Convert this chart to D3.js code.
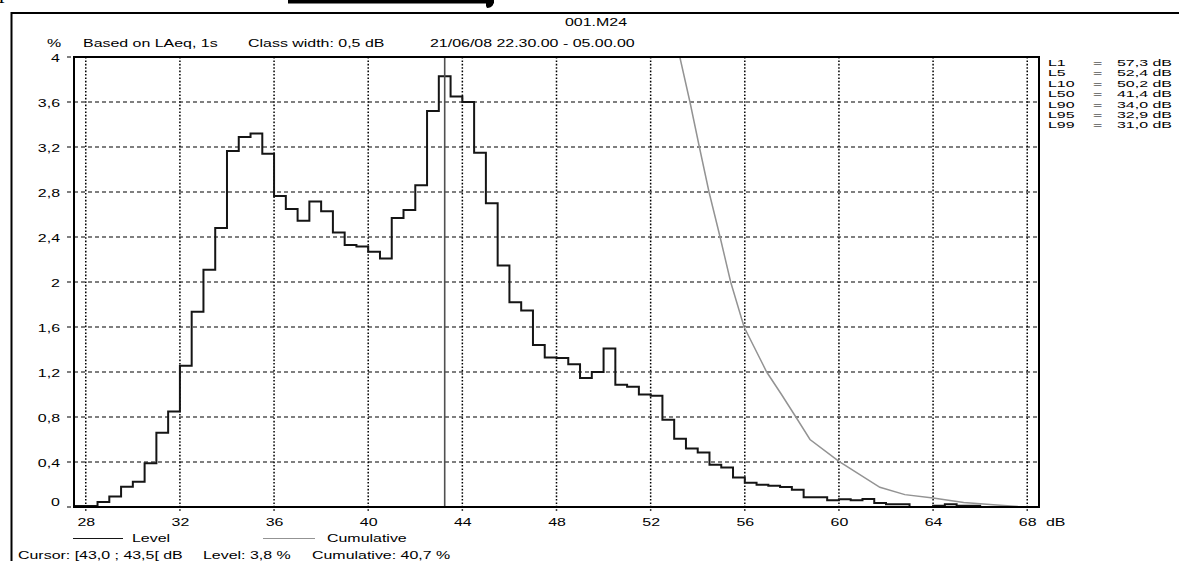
<!DOCTYPE html>
<html><head><meta charset="utf-8">
<script src="https://cdn.jsdelivr.net/npm/d3@7"></script>
<style>
body{margin:0;background:#fff}
text{font-family:"Liberation Sans",Arial,sans-serif;font-size:11px;fill:#000}
</style>
</head><body>
<svg id="c" width="1179" height="561"></svg>
<script>
// ---------- data ----------
const classLow = [27.5,28,28.5,29,29.5,30,30.5,31,31.5,32,32.5,33,33.5,34,34.5,35,35.5,36,36.5,37,37.5,38,38.5,39,39.5,40,40.5,41,41.5,42,42.5,43,43.5,44,44.5,45,45.5,46,46.5,47,47.5,48,48.5,49,49.5,50,50.5,51,51.5,52,52.5,53,53.5,54,54.5,55,55.5,56,56.5,57,57.5,58,58.5,59,59.5,60,60.5,61,61.5,62,62.5,63,63.5,64,64.5,65,65.5,66];
const levelPct = [0.01,0.01,0.045,0.093,0.18,0.225,0.39,0.66,0.85,1.255,1.735,2.11,2.48,3.165,3.29,3.32,3.14,2.765,2.65,2.545,2.715,2.63,2.44,2.33,2.315,2.27,2.21,2.57,2.64,2.86,3.52,3.83,3.65,3.60,3.15,2.70,2.146,1.82,1.747,1.44,1.33,1.325,1.27,1.146,1.20,1.41,1.086,1.07,1.0,0.99,0.776,0.607,0.52,0.485,0.376,0.352,0.263,0.215,0.198,0.19,0.178,0.154,0.086,0.086,0.059,0.068,0.059,0.071,0.036,0.024,0.024,0,0,0.012,0.024,0.012,0.012,0];
const classWidth = 0.5;
const cumLevel = [53.24,53.67,54.07,54.48,54.95,55.4,55.97,56.93,57.56,58.17,58.77,60.0,61.74,62.8,64.0,65.3,66.56,67.6];
const cumPct   = [4.0,3.6,3.2,2.8,2.4,2.0,1.6,1.2,1.0,0.8,0.6,0.405,0.175,0.11,0.08,0.04,0.02,0.005];
const xTicks = [28,32,36,40,44,48,52,56,60,64,68];
const yTicks = [0,0.4,0.8,1.2,1.6,2,2.4,2.8,3.2,3.6,4];
const statNames = ["L1","L5","L10","L50","L90","L95","L99"];
const statValues = [57.3,52.4,50.2,41.4,34.0,32.9,31.0];
const cursorClass = [43.0,43.5];
const cursorLevel = 3.8;
const cursorCum = 40.7;
const fileName = "001.M24";
const subtitleParts = ["Based on LAeq, 1s","Class width: 0,5 dB","21/06/08 22.30.00 - 05.00.00"];

// ---------- layout ----------
const svg = d3.select("#c");
svg.append("rect").attr("width",1179).attr("height",561).attr("fill","#fff");
const L = 74, R = 1039, T = 57, B = 507;
const x = d3.scaleLinear().domain([27.5,68.5]).range([L,R]);
const y = d3.scaleLinear().domain([0,4]).range([B,T]);
const comma = v => String(v).replace(".",",");
const fx1 = v => v.toFixed(1).replace(".",",");
const SX = 1.45;
function txt(x0,y0,s,anchor,size,sx){
  return svg.append("text").attr("transform",`translate(${x0},${y0}) scale(${sx||SX},1)`)
    .attr("text-anchor",anchor||"start").style("font-size",(size||11)+"px").text(s);
}

// top decorations (cut-off page content)
svg.append("text").attr("x",-1).attr("y",-2).style("font-family","Liberation Serif").style("font-size","22px").text("p");
svg.append("rect").attr("x",288).attr("y",0).attr("width",206).attr("height",3.5).attr("fill","#000");
svg.append("path").attr("d","M486,0 L494,0 L493,5 Q491,8 487,8 L486,6 Z").attr("fill","#000");

// outer frame
svg.append("path").attr("d","M11.5,561 V13 H1179").attr("fill","none").attr("stroke","#000").attr("stroke-width",2);

// titles
txt(596,26,fileName,"middle");
txt(47,47,"%");
txt(83,47,subtitleParts[0]);
txt(248,47,subtitleParts[1]);
txt(430,47,subtitleParts[2]);

// grid
const grid = svg.append("g");
grid.selectAll("line.h").data(yTicks).join("line")
  .attr("x1",L-7).attr("x2",R).attr("y1",d=>y(d)).attr("y2",d=>y(d))
  .attr("stroke","#000").attr("stroke-width",1.2).attr("stroke-dasharray","4,3");
grid.selectAll("line.v").data(xTicks).join("line")
  .attr("x1",d=>x(d)).attr("x2",d=>x(d)).attr("y1",T).attr("y2",B+5)
  .attr("stroke","#000").attr("stroke-width",1.5).attr("stroke-dasharray","1.6,1.8");

// x axis labels
const xAxis = d3.axisBottom(x).tickValues(xTicks).tickSize(0).tickPadding(0).tickFormat(d=>d);
const gx = svg.append("g").attr("transform",`translate(0,${B})`).call(xAxis);
gx.select(".domain").remove();
gx.selectAll(".tick text").attr("x",0).attr("dy",0).attr("y",19)
  .attr("transform",`scale(${SX},1)`)
  .style("font-size","11px").style("font-family","Liberation Sans").attr("fill","#000");
txt(1046,526,"dB");

// y axis labels
const yAxis = d3.axisLeft(y).tickValues(yTicks).tickSize(0).tickPadding(0).tickFormat(d=>comma(d));
const gy = svg.append("g").attr("transform",`translate(60,0)`).call(yAxis);
gy.select(".domain").remove();
gy.selectAll(".tick text").attr("x",0).attr("dy",0).attr("y",d=>d===0?-2:4)
  .attr("transform",`scale(${SX},1)`).attr("text-anchor","end")
  .style("font-size","11px").style("font-family","Liberation Sans").attr("fill","#000");

// histogram (Level)
const pts = classLow.map((c,i)=>[c,levelPct[i]]);
pts.push([classLow[classLow.length-1]+classWidth, levelPct[levelPct.length-1]]);
const step = d3.line().x(d=>x(d[0])).y(d=>y(d[1])).curve(d3.curveStepAfter);
svg.append("defs").append("clipPath").attr("id","clip").append("rect")
  .attr("x",L).attr("y",T).attr("width",R-L).attr("height",B-T);
svg.append("path").datum(pts).attr("d",step).attr("fill","none")
  .attr("stroke","#151515").attr("stroke-width",2).attr("clip-path","url(#clip)");

// cumulative
const cumLine = d3.line().x((d,i)=>x(cumLevel[i])).y((d,i)=>y(cumPct[i]));
svg.append("path").datum(cumLevel).attr("d",cumLine).attr("fill","none")
  .attr("stroke","#939393").attr("stroke-width",1.5).attr("clip-path","url(#clip)");

// cursor line
const cx = x((cursorClass[0]+cursorClass[1])/2);
svg.append("line").attr("x1",cx).attr("x2",cx).attr("y1",T).attr("y2",B)
  .attr("stroke","#505050").attr("stroke-width",1.6);

// plot frame
svg.append("rect").attr("x",L).attr("y",T).attr("width",R-L).attr("height",B-T)
  .attr("fill","none").attr("stroke","#000").attr("stroke-width",2);

// stats at right
const SSX = 1.45*11/9;
statNames.forEach((n,i)=>{
  const yy = 66 + i*10.4;
  txt(1048,yy,n,"start",9,SSX);
  txt(1093,yy,"=","start",9,SSX);
  txt(1117,yy,fx1(statValues[i])+" dB","start",9,SSX);
});

// legend
svg.append("line").attr("x1",73).attr("x2",123).attr("y1",538.5).attr("y2",538.5).attr("stroke","#151515").attr("stroke-width",1.2);
txt(132,542,"Level");
svg.append("line").attr("x1",263).attr("x2",315).attr("y1",538.5).attr("y2",538.5).attr("stroke","#939393").attr("stroke-width",1.2);
txt(327,542,"Cumulative");

// cursor info
txt(18,559,`Cursor: [${fx1(cursorClass[0])} ; ${fx1(cursorClass[1])}[ dB`);
txt(203,559,`Level: ${fx1(cursorLevel)} %`);
txt(312,559,`Cumulative: ${fx1(cursorCum)} %`);
</script>
</body></html>
